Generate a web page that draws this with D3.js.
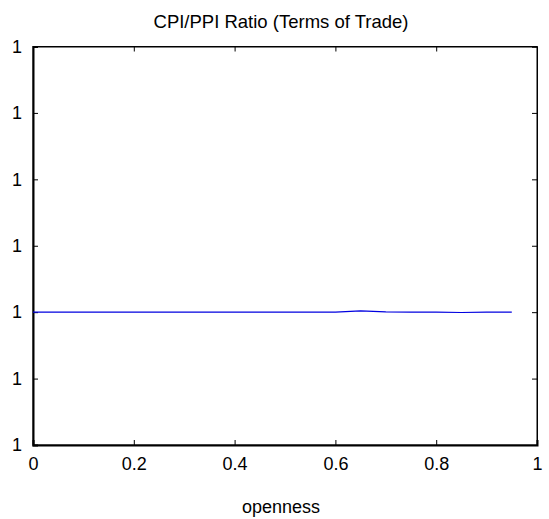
<!DOCTYPE html>
<html><head><meta charset="utf-8">
<script src="https://cdn.jsdelivr.net/npm/d3@7"></script>
<style>body{margin:0;background:#fff}svg{display:block}text{font-family:"Liberation Sans",Arial,sans-serif}</style>
</head><body><svg id="c" width="549" height="519"></svg>
<script>
const title = "CPI/PPI Ratio (Terms of Trade)";
const xLabel = "openness";
const xTicks = [0, 0.2, 0.4, 0.6, 0.8, 1];
const yTicks = [1 - 2e-8, 1 - 1e-8, 1, 1 + 1e-8, 1 + 2e-8, 1 + 3e-8, 1 + 4e-8];
const openness = [0, 0.05, 0.1, 0.15, 0.2, 0.25, 0.3, 0.35, 0.4, 0.45, 0.5, 0.55, 0.6, 0.65, 0.7, 0.75, 0.8, 0.85, 0.9, 0.95];
const ratio = [1, 1, 1, 1, 1, 1, 1, 1, 1, 1, 1, 1, 1, 1.0000000002, 1.00000000005, 1, 1, 0.99999999995, 1, 1];

const svg = d3.select("#c");
const L = 33, R = 537, T = 46.5, B = 445;
const x = d3.scaleLinear().domain([0, 1]).range([L, R]);
const y = d3.scaleLinear().domain([yTicks[0], yTicks[yTicks.length - 1]]).range([B, T]);
const fs = 18;

svg.append("rect").attr("x", L).attr("y", T).attr("width", R - L).attr("height", B - T)
  .attr("fill", "none").attr("stroke", "#000").attr("stroke-width", 1);

const fmt = d3.format(".4~g");
const xb = svg.append("g").attr("transform", `translate(0,${B})`)
  .call(d3.axisBottom(x).tickValues(xTicks).tickSize(-5).tickPadding(12).tickFormat(fmt));
const xt = svg.append("g").attr("transform", `translate(0,${T})`)
  .call(d3.axisTop(x).tickValues(xTicks).tickSize(-5).tickFormat(""));
const yl = svg.append("g").attr("transform", `translate(${L},0)`)
  .call(d3.axisLeft(y).tickValues(yTicks).tickSize(-5).tickPadding(11).tickFormat(fmt));
const yr = svg.append("g").attr("transform", `translate(${R},0)`)
  .call(d3.axisRight(y).tickValues(yTicks).tickSize(-5).tickFormat(""));
[xb, xt, yl, yr].forEach(g => {
  g.select(".domain").attr("stroke", "#000").attr("stroke-width", 2);
  g.selectAll(".tick line").attr("stroke", "#000");
  g.selectAll("text").attr("font-size", fs).attr("fill", "#000").attr("font-family", '"Liberation Sans",Arial,sans-serif');
});
xt.select(".domain").attr("stroke-width", 1);
yr.select(".domain").attr("stroke-width", 1);

svg.append("path").datum(openness.map((o, i) => [o, ratio[i]]))
  .attr("fill", "none").attr("stroke", "#0000e0").attr("stroke-width", 1.2)
  .attr("d", d3.line().x(d => x(d[0])).y(d => y(d[1])));

svg.append("text").attr("x", 281).attr("y", 28).attr("text-anchor", "middle")
  .attr("font-size", 18.5).text(title);
svg.append("text").attr("x", 281).attr("y", 513).attr("text-anchor", "middle")
  .attr("font-size", fs).text(xLabel);
</script></body></html>
